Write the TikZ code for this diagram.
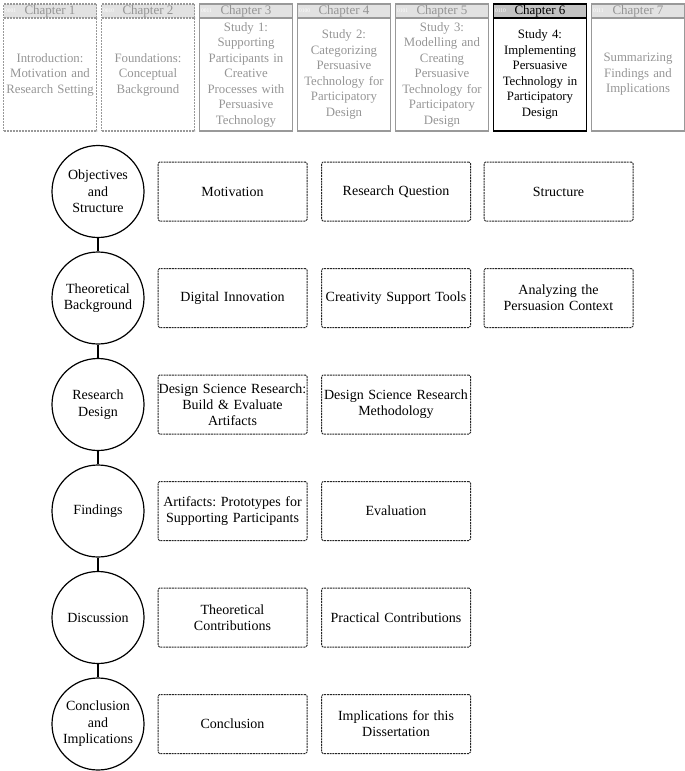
\documentclass[tikz,border=0pt]{standalone}
\usepackage{fontspec}
\setmainfont{Liberation Serif}
\frenchspacing
\definecolor{fadetext}{HTML}{959595}
\definecolor{fadeline}{HTML}{999999}
\definecolor{headfill}{HTML}{E2E2E2}
\definecolor{headfillact}{HTML}{C2C2C2}
\begin{document}
\begin{tikzpicture}[x=1pt,y=-1pt,
  chapbody/.style={draw=fadeline,line width=1.2pt,minimum width=93pt,minimum height=113pt,text width=92pt,align=center,inner sep=0pt,text=fadetext,font=\fontsize{12.8}{15.5}\selectfont},
  chaphead/.style={draw=fadeline,fill=headfill,line width=1.2pt,minimum width=93pt,minimum height=14pt,inner sep=0pt,text=fadetext,font=\fontsize{13}{14}\selectfont},
  chapdash/.style={dash pattern=on 2pt off 1pt},
  chapact/.style={draw=black,text=black},
  code/.style={anchor=west,inner sep=0pt,text=white,font=\fontsize{5.5}{6}\selectfont},
  topic/.style={circle,draw=black,line width=1.2pt,minimum size=92pt,inner sep=0pt,align=center,font=\fontsize{14}{16.5}\selectfont},
  item/.style={draw=black!85,line width=1pt,dash pattern=on 2pt off 0.8pt,rounded corners=1.5pt,minimum width=149pt,minimum height=59pt,inner sep=0pt,text width=148pt,align=center,font=\fontsize{14}{16}\selectfont},
  link/.style={draw=black,line width=1.2pt}]
\useasboundingbox (0,0) rectangle (685,771);

% chapter row
\node[chapbody,chapdash] (b1) at (50,74.5) {Introduction:\\Motivation and\\Research Setting};
\node[chaphead,chapdash] (h1) at (50,11) {Chapter 1};
\node[code] (k1) at ([xshift=2pt]h1.west) {0001};

\node[chapbody,chapdash] (b2) at (148,74.5) {Foundations:\\Conceptual\\Background};
\node[chaphead,chapdash] (h2) at (148,11) {Chapter 2};
\node[code] (k2) at ([xshift=2pt]h2.west) {0010};

\node[chapbody] (b3) at (246,74.5) {Study 1:\\Supporting\\Participants in\\Creative\\Processes with\\Persuasive\\Technology};
\node[chaphead] (h3) at (246,11) {Chapter 3};
\node[code] (k3) at ([xshift=2pt]h3.west) {0011};

\node[chapbody] (b4) at (344,74.5) {Study 2:\\Categorizing\\Persuasive\\Technology for\\Participatory\\Design};
\node[chaphead] (h4) at (344,11) {Chapter 4};
\node[code] (k4) at ([xshift=2pt]h4.west) {0100};

\node[chapbody] (b5) at (442,74.5) {Study 3:\\Modelling and\\Creating\\Persuasive\\Technology for\\Participatory\\Design};
\node[chaphead] (h5) at (442,11) {Chapter 5};
\node[code] (k5) at ([xshift=2pt]h5.west) {0101};

\node[chapbody,chapact,line width=1.4pt] (b6) at (540,74.5) {Study 4:\\Implementing\\Persuasive\\Technology in\\Participatory\\Design};
\node[chaphead,chapact,fill=headfillact,line width=1.4pt] (h6) at (540,11) {Chapter 6};
\node[code] (k6) at ([xshift=2pt]h6.west) {0110};

\node[chapbody] (b7) at (638,74.5) {Summarizing\\Findings and\\Implications};
\node[chaphead] (h7) at (638,11) {Chapter 7};
\node[code] (k7) at ([xshift=2pt]h7.west) {0111};

% topics
\node[topic] (t1) at (98,191.5) {Objectives\\and\\Structure};
\node[topic] (t2) at (98,298) {Theoretical\\Background};
\node[topic] (t3) at (98,404.5) {Research\\Design};
\node[topic] (t4) at (98,511) {Findings};
\node[topic] (t5) at (98,617.5) {Discussion};
\node[topic] (t6) at (98,724) {Conclusion\\and\\Implications};
\draw[link] (t1) -- (t2);
\draw[link] (t2) -- (t3);
\draw[link] (t3) -- (t4);
\draw[link] (t4) -- (t5);
\draw[link] (t5) -- (t6);

% items
\node[item] (a1) at (232.5,191.5) {Motivation};
\node[item] (a2) at (396,191.5) {Research Question};
\node[item] (a3) at (558.5,191.5) {Structure};
\node[item] (b1x) at (232.5,298) {Digital Innovation};
\node[item] (b2x) at (396,298) {Creativity Support Tools};
\node[item] (b3x) at (558.5,298) {Analyzing the\\Persuasion Context};
\node[item] (c1x) at (232.5,404.5) {Design Science Research:\\Build \& Evaluate\\Artifacts};
\node[item] (c2x) at (396,404.5) {Design Science Research\\Methodology};
\node[item] (d1x) at (232.5,511) {Artifacts: Prototypes for\\Supporting Participants};
\node[item] (d2x) at (396,511) {Evaluation};
\node[item] (e1x) at (232.5,617.5) {Theoretical\\Contributions};
\node[item] (e2x) at (396,617.5) {Practical Contributions};
\node[item] (f1x) at (232.5,724) {Conclusion};
\node[item] (f2x) at (396,724) {Implications for this\\Dissertation};
\end{tikzpicture}
\end{document}
